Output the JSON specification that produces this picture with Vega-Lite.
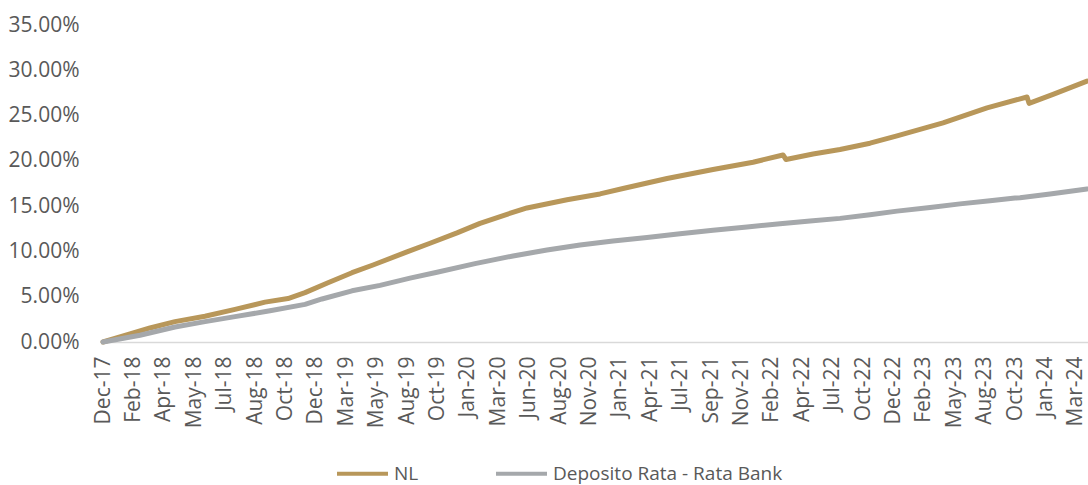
{
  "$schema": "https://vega.github.io/schema/vega-lite/v6.json",
  "autosize": {"type": "none"},
  "width": 985,
  "height": 317,
  "padding": {"left": 103, "top": 25, "right": 0, "bottom": 143},
  "background": "white",
  "config": {
    "view": {"stroke": null},
    "font": "Open Sans"
  },
  "data": {
    "values": [
      {"t": 0, "v": 0, "s": "NL"},
      {"t": 0.888, "v": 0.009, "s": "NL"},
      {"t": 1.546, "v": 0.0155, "s": "NL"},
      {"t": 2.368, "v": 0.0225, "s": "NL"},
      {"t": 3.355, "v": 0.0285, "s": "NL"},
      {"t": 4.342, "v": 0.036, "s": "NL"},
      {"t": 5.329, "v": 0.044, "s": "NL"},
      {"t": 6.086, "v": 0.048, "s": "NL"},
      {"t": 6.645, "v": 0.0545, "s": "NL"},
      {"t": 7.401, "v": 0.0655, "s": "NL"},
      {"t": 8.191, "v": 0.0765, "s": "NL"},
      {"t": 8.882, "v": 0.085, "s": "NL"},
      {"t": 10.0, "v": 0.0995, "s": "NL"},
      {"t": 10.757, "v": 0.109, "s": "NL"},
      {"t": 11.645, "v": 0.1205, "s": "NL"},
      {"t": 12.401, "v": 0.131, "s": "NL"},
      {"t": 13.289, "v": 0.141, "s": "NL"},
      {"t": 13.947, "v": 0.148, "s": "NL"},
      {"t": 15.263, "v": 0.157, "s": "NL"},
      {"t": 16.349, "v": 0.1635, "s": "NL"},
      {"t": 17.105, "v": 0.1695, "s": "NL"},
      {"t": 18.553, "v": 0.1805, "s": "NL"},
      {"t": 20.066, "v": 0.1905, "s": "NL"},
      {"t": 21.382, "v": 0.1985, "s": "NL"},
      {"t": 22.368, "v": 0.2065, "s": "NL"},
      {"t": 22.467, "v": 0.2015, "s": "NL"},
      {"t": 23.355, "v": 0.2075, "s": "NL"},
      {"t": 24.243, "v": 0.2125, "s": "NL"},
      {"t": 25.23, "v": 0.2195, "s": "NL"},
      {"t": 26.118, "v": 0.2275, "s": "NL"},
      {"t": 27.632, "v": 0.242, "s": "NL"},
      {"t": 29.079, "v": 0.2585, "s": "NL"},
      {"t": 30.395, "v": 0.2705, "s": "NL"},
      {"t": 30.461, "v": 0.2635, "s": "NL"},
      {"t": 31.25, "v": 0.2735, "s": "NL"},
      {"t": 32.368, "v": 0.288, "s": "NL"},
      {"t": 0, "v": 0, "s": "Deposito Rata - Rata Bank"},
      {"t": 1.217, "v": 0.0075, "s": "Deposito Rata - Rata Bank"},
      {"t": 2.368, "v": 0.0165, "s": "Deposito Rata - Rata Bank"},
      {"t": 3.355, "v": 0.0225, "s": "Deposito Rata - Rata Bank"},
      {"t": 4.342, "v": 0.028, "s": "Deposito Rata - Rata Bank"},
      {"t": 5.493, "v": 0.0345, "s": "Deposito Rata - Rata Bank"},
      {"t": 6.645, "v": 0.0415, "s": "Deposito Rata - Rata Bank"},
      {"t": 7.204, "v": 0.0475, "s": "Deposito Rata - Rata Bank"},
      {"t": 8.191, "v": 0.0565, "s": "Deposito Rata - Rata Bank"},
      {"t": 9.112, "v": 0.0625, "s": "Deposito Rata - Rata Bank"},
      {"t": 10.099, "v": 0.0705, "s": "Deposito Rata - Rata Bank"},
      {"t": 10.987, "v": 0.077, "s": "Deposito Rata - Rata Bank"},
      {"t": 12.237, "v": 0.0865, "s": "Deposito Rata - Rata Bank"},
      {"t": 13.487, "v": 0.095, "s": "Deposito Rata - Rata Bank"},
      {"t": 14.605, "v": 0.1015, "s": "Deposito Rata - Rata Bank"},
      {"t": 15.691, "v": 0.107, "s": "Deposito Rata - Rata Bank"},
      {"t": 16.776, "v": 0.1115, "s": "Deposito Rata - Rata Bank"},
      {"t": 17.895, "v": 0.1155, "s": "Deposito Rata - Rata Bank"},
      {"t": 18.98, "v": 0.1195, "s": "Deposito Rata - Rata Bank"},
      {"t": 20.066, "v": 0.1235, "s": "Deposito Rata - Rata Bank"},
      {"t": 21.184, "v": 0.127, "s": "Deposito Rata - Rata Bank"},
      {"t": 22.27, "v": 0.1305, "s": "Deposito Rata - Rata Bank"},
      {"t": 23.257, "v": 0.1335, "s": "Deposito Rata - Rata Bank"},
      {"t": 24.243, "v": 0.1365, "s": "Deposito Rata - Rata Bank"},
      {"t": 25.23, "v": 0.1405, "s": "Deposito Rata - Rata Bank"},
      {"t": 26.118, "v": 0.1445, "s": "Deposito Rata - Rata Bank"},
      {"t": 27.204, "v": 0.1485, "s": "Deposito Rata - Rata Bank"},
      {"t": 28.191, "v": 0.1525, "s": "Deposito Rata - Rata Bank"},
      {"t": 29.178, "v": 0.156, "s": "Deposito Rata - Rata Bank"},
      {"t": 30.0, "v": 0.159, "s": "Deposito Rata - Rata Bank"},
      {"t": 30.164, "v": 0.1592, "s": "Deposito Rata - Rata Bank"},
      {"t": 31.151, "v": 0.1635, "s": "Deposito Rata - Rata Bank"},
      {"t": 32.368, "v": 0.169, "s": "Deposito Rata - Rata Bank"}
    ]
  },
  "mark": {"type": "line", "strokeWidth": 5, "strokeCap": "round", "strokeJoin": "round"},
  "encoding": {
    "x": {
      "field": "t",
      "type": "quantitative",
      "scale": {"domain": [0, 32.4], "nice": false, "zero": false},
      "axis": {
        "title": null,
        "grid": false,
        "ticks": false,
        "values": [0,1,2,3,4,5,6,7,8,9,10,11,12,13,14,15,16,17,18,19,20,21,22,23,24,25,26,27,28,29,30,31,32],
        "labelExpr": "['Dec-17','Feb-18','Apr-18','May-18','Jul-18','Aug-18','Oct-18','Dec-18','Mar-19','May-19','Aug-19','Oct-19','Jan-20','Mar-20','Jun-20','Aug-20','Nov-20','Jan-21','Apr-21','Jul-21','Sep-21','Nov-21','Feb-22','Apr-22','Jul-22','Oct-22','Dec-22','Feb-23','May-23','Aug-23','Oct-23','Jan-24','Mar-24'][datum.value]",
        "labelAngle": -90,
        "labelFontSize": 21,
        "labelColor": "#595959",
        "labelPadding": 14,
        "labelOverlap": false,
        "labelBound": false,
        "labelFlush": false,
        "domainColor": "#D9D9D9",
        "domainWidth": 1.5
      }
    },
    "y": {
      "field": "v",
      "type": "quantitative",
      "scale": {"domain": [0, 0.35], "nice": false},
      "axis": {
        "title": null,
        "grid": false,
        "ticks": false,
        "domain": false,
        "values": [0, 0.05, 0.1, 0.15, 0.2, 0.25, 0.3, 0.35],
        "format": ".2%",
        "labelFontSize": 21,
        "labelColor": "#595959",
        "labelPadding": 24
      }
    },
    "color": {
      "field": "s",
      "type": "nominal",
      "sort": ["NL", "Deposito Rata - Rata Bank"],
      "scale": {"domain": ["NL", "Deposito Rata - Rata Bank"], "range": ["#B8975A", "#A5A8AB"]},
      "legend": {
        "title": null,
        "orient": "none",
        "direction": "horizontal",
        "legendX": 232,
        "legendY": 421,
        "symbolType": "stroke",
        "symbolSize": 2601,
        "symbolStrokeWidth": 4,
        "labelFontSize": 19,
        "labelColor": "#595959",
        "labelOffset": 4,
        "labelLimit": 400,
        "columnPadding": 69
      }
    }
  }
}
